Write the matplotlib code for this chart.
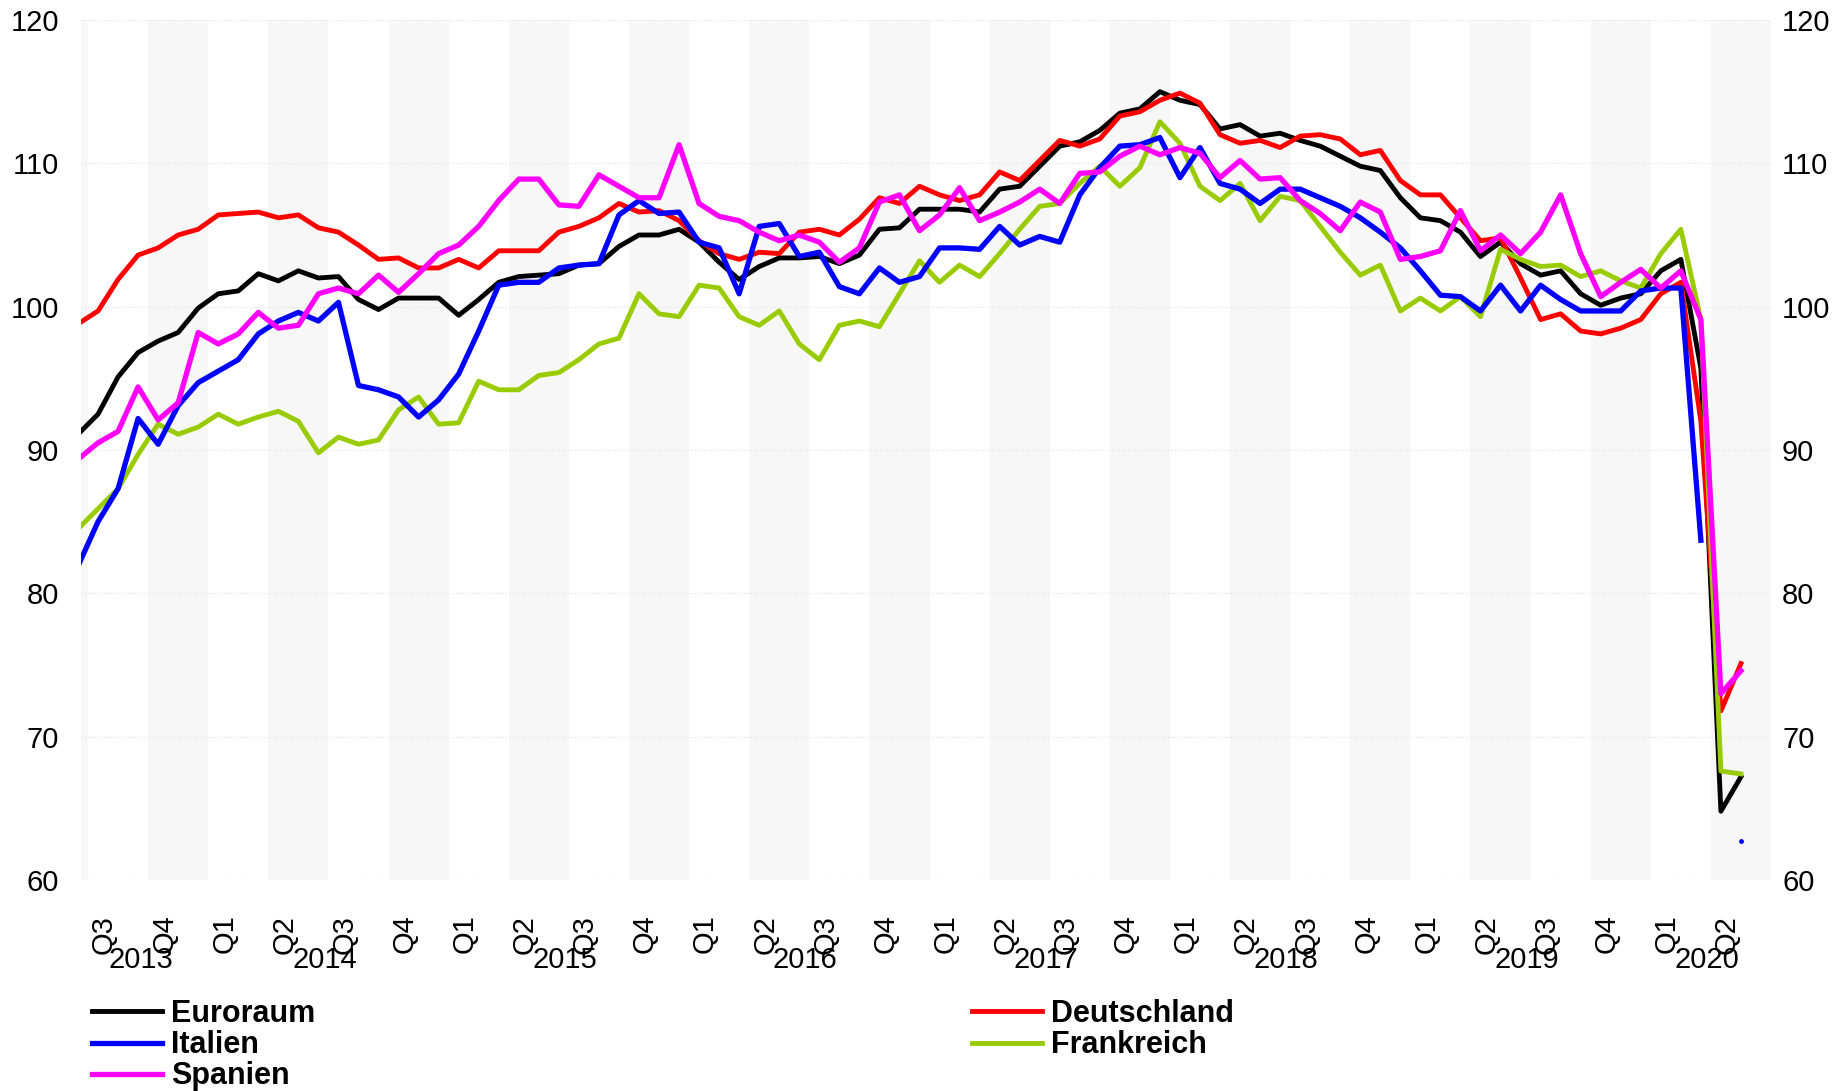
import numpy as np
import matplotlib
matplotlib.use("Agg")
import matplotlib.pyplot as plt
import matplotlib.transforms as mtransforms

plt.rcParams['font.family'] = ['Liberation Sans', 'DejaVu Sans']

# month index: 0 = Jul 2013, data runs Jun 2013 .. May 2020
months = np.arange(-1, 83)

euroraum = [91.1, 92.5, 95.1, 96.8, 97.6, 98.2, 99.9, 100.9, 101.1, 102.3,
            101.8, 102.5, 102.0, 102.1, 100.5, 99.8, 100.6, 100.6, 100.6, 99.4,
            100.5, 101.7, 102.1, 102.2, 102.3, 102.9, 103.0, 104.2, 105.0, 105.0,
            105.4, 104.5, 103.1, 101.9, 102.8, 103.4, 103.4, 103.5, 103.0, 103.6,
            105.4, 105.5, 106.8, 106.8, 106.8, 106.6, 108.2, 108.4, 109.8, 111.2,
            111.5, 112.3, 113.5, 113.8, 115.0, 114.4, 114.1, 112.4, 112.7, 111.9,
            112.1, 111.6, 111.2, 110.5, 109.8, 109.5, 107.6, 106.2, 106.0, 105.2,
            103.5, 104.5, 103.0, 102.2, 102.5, 100.9, 100.1, 100.6, 100.9, 102.5,
            103.3, 95.7, 64.8, 67.2]

deutschland = [98.8, 99.7, 101.9, 103.6, 104.1, 105.0, 105.4, 106.4, 106.5, 106.6,
               106.2, 106.4, 105.5, 105.2, 104.3, 103.3, 103.4, 102.7, 102.7, 103.3,
               102.7, 103.9, 103.9, 103.9, 105.2, 105.6, 106.2, 107.2, 106.6, 106.7,
               106.0, 104.6, 103.7, 103.3, 103.8, 103.7, 105.2, 105.4, 105.0, 106.1,
               107.6, 107.2, 108.4, 107.8, 107.4, 107.8, 109.4, 108.8, 110.2, 111.6,
               111.2, 111.7, 113.3, 113.6, 114.4, 114.9, 114.2, 112.0, 111.4, 111.6,
               111.1, 111.9, 112.0, 111.7, 110.6, 110.9, 108.8, 107.8, 107.8, 106.2,
               104.6, 104.8, 102.0, 99.1, 99.5, 98.3, 98.1, 98.5, 99.1, 100.9,
               101.7, 92.0, 71.8, 75.1]

italien = [81.9, 85.0, 87.3, 92.2, 90.4, 93.1, 94.7, 95.5, 96.3, 98.1,
           99.0, 99.6, 99.0, 100.3, 94.5, 94.2, 93.7, 92.3, 93.5, 95.3,
           98.3, 101.5, 101.7, 101.7, 102.7, 102.9, 103.0, 106.4, 107.4, 106.5,
           106.6, 104.5, 104.1, 100.9, 105.6, 105.8, 103.5, 103.8, 101.4, 100.9,
           102.7, 101.7, 102.1, 104.1, 104.1, 104.0, 105.6, 104.3, 104.9, 104.5,
           107.8, 109.7, 111.2, 111.3, 111.8, 109.0, 111.1, 108.6, 108.2, 107.2,
           108.2, 108.2, 107.6, 107.0, 106.2, 105.2, 104.1, 102.5, 100.8, 100.7,
           99.7, 101.5, 99.7, 101.5, 100.5, 99.7, 99.7, 99.7, 101.1, 101.3,
           101.3, 83.7, np.nan, 62.7]

spanien = [89.35, 90.5, 91.3, 94.4, 92.1, 93.3, 98.2, 97.4, 98.1, 99.6,
           98.5, 98.7, 100.9, 101.3, 100.9, 102.2, 101.0, 102.3, 103.7, 104.3,
           105.6, 107.4, 108.9, 108.9, 107.1, 107.0, 109.2, 108.4, 107.6, 107.6,
           111.3, 107.2, 106.3, 106.0, 105.2, 104.6, 105.0, 104.5, 103.1, 104.1,
           107.3, 107.8, 105.3, 106.4, 108.3, 106.0, 106.6, 107.3, 108.2, 107.2,
           109.3, 109.4, 110.5, 111.2, 110.6, 111.1, 110.7, 109.0, 110.2, 108.9,
           109.0, 107.4, 106.5, 105.3, 107.3, 106.6, 103.3, 103.5, 103.9, 106.7,
           103.9, 105.0, 103.7, 105.2, 107.8, 103.7, 100.7, 101.7, 102.6, 101.3,
           102.5, 99.1, 73.0, 74.6]

frankreich = [84.5, 85.9, 87.3, 89.7, 91.8, 91.1, 91.6, 92.5, 91.8, 92.3,
              92.7, 92.0, 89.8, 90.9, 90.4, 90.7, 92.8, 93.7, 91.8, 91.9,
              94.8, 94.2, 94.2, 95.2, 95.4, 96.3, 97.4, 97.8, 100.9, 99.5,
              99.3, 101.5, 101.3, 99.3, 98.7, 99.7, 97.4, 96.3, 98.7, 99.0,
              98.6, 100.9, 103.2, 101.7, 102.9, 102.1, 103.7, 105.4, 107.0, 107.2,
              108.6, 109.8, 108.4, 109.7, 112.9, 111.4, 108.4, 107.4, 108.6, 106.0,
              107.7, 107.4, 105.6, 103.8, 102.2, 102.9, 99.7, 100.6, 99.7, 100.7,
              99.3, 104.0, 103.3, 102.8, 102.9, 102.1, 102.5, 101.8, 101.3, 103.7,
              105.4, 99.1, 67.6, 67.4]

quarter_labels = ['Q3', 'Q4', 'Q1', 'Q2'] * 7
years = [2013, 2014, 2015, 2016, 2017, 2018, 2019, 2020]

xmin, xmax = -0.85, 83.5

fig = plt.figure(figsize=(18.45, 10.91), dpi=100)
ax = fig.add_axes([81 / 1845, 1 - 880 / 1091, 1690 / 1845, 860 / 1091])

# grey bands for Q4 and Q2
for k in range(-1, 29):
    if k % 2 == 1:
        ax.axvspan(3 * k - 0.5, 3 * k + 2.5, color='#f7f7f7', lw=0, zorder=0)

l_eu, = ax.plot(months, euroraum, color='black', lw=3.5, zorder=3)
l_de, = ax.plot(months, deutschland, color='#ff0000', lw=3.5, zorder=3)
l_fr, = ax.plot(months, frankreich, color='#99cc00', lw=3.5, zorder=3)
l_it, = ax.plot(months, italien, color='#0000ff', lw=3.8, zorder=4)
ax.plot(months[-1:], italien[-1:], 'o', color='#0000ff', ms=2.5, zorder=4)
l_es, = ax.plot(months, spanien, color='#ff00ff', lw=3.8, zorder=5)

ax.set_xlim(xmin, xmax)
ax.set_ylim(60, 120)
ax.set_yticks(range(60, 121, 10))
ax.grid(axis='y', color='#e3e3e3', ls=':', lw=0.9)
ax.set_axisbelow(True)
for s in ax.spines.values():
    s.set_visible(False)

qpos = [3 * k + 0.3 for k in range(len(quarter_labels))]
ax.set_xticks(qpos)
ax.set_xticklabels(quarter_labels, rotation=90, fontsize=21)
ax.tick_params(axis='x', length=0, pad=25)
ax.tick_params(axis='y', length=0, pad=16, labelsize=21)

ax2 = ax.twinx()
ax2.set_ylim(60, 120)
ax2.set_yticks(range(60, 121, 10))
ax2.tick_params(axis='y', length=0, pad=8, labelsize=21)
for s in ax2.spines.values():
    s.set_visible(False)

# year labels centred on the visible part of each year
trans = mtransforms.blended_transform_factory(ax.transData, ax.transAxes)
for y in years:
    start = max(xmin, 12 * (y - 2014) + 5.5)
    end = min(xmax, 12 * (y - 2014) + 17.5)
    ax.text((start + end) / 2 - 0.2, -0.077, str(y), transform=trans,
            ha='center', va='top', fontsize=21)

legend_kw = dict(loc='upper left', frameon=False, borderpad=0, borderaxespad=0,
                 handlelength=2.3, handletextpad=0.3, labelspacing=0.04,
                 prop=dict(family='Liberation Sans', weight='bold', size=22))
fig.legend([l_eu, l_it, l_es], ['Euroraum', 'Italien', 'Spanien'],
           bbox_to_anchor=(92 / 1845, 1 - 999 / 1091), **legend_kw)
fig.legend([l_de, l_fr], ['Deutschland', 'Frankreich'],
           bbox_to_anchor=(972 / 1845, 1 - 999 / 1091), **legend_kw)

fig.savefig('out.png', dpi=100)
